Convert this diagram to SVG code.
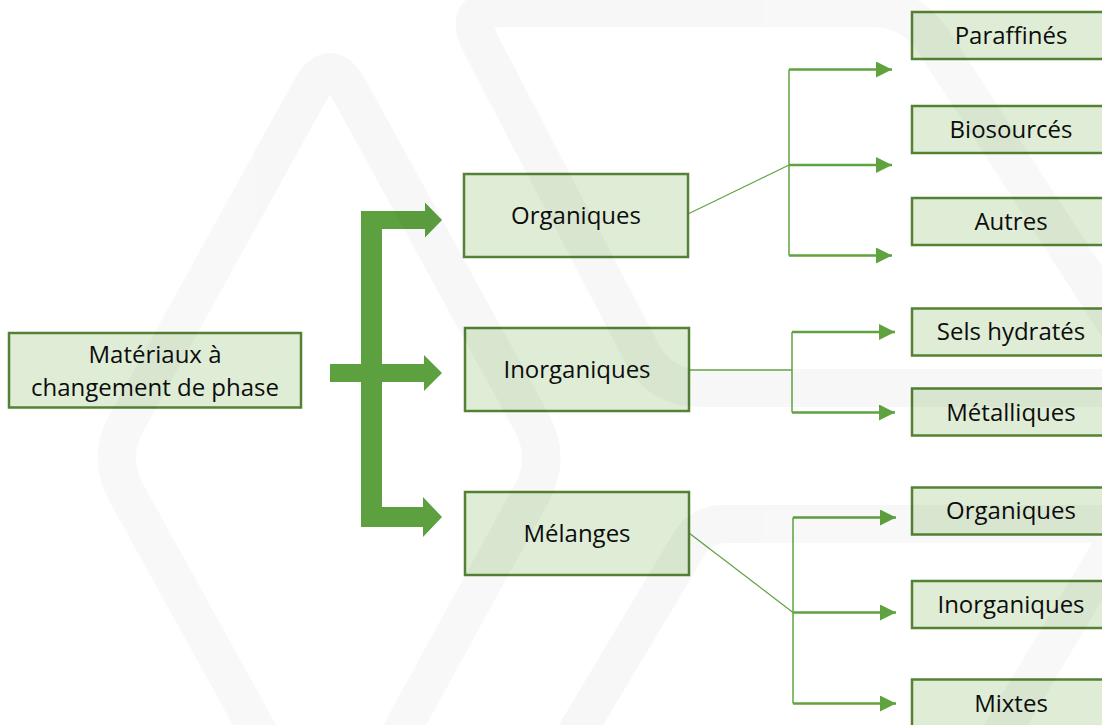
<svg xmlns="http://www.w3.org/2000/svg" width="1102" height="725" viewBox="0 0 1102 725">
<defs>
<style>
.box{fill:#DFEDD6;stroke:#548235;stroke-width:2.5}
.t{font-family:"Open Sans","Liberation Sans",sans-serif;font-size:24px;fill:#0d0d0d;text-anchor:middle}
.h{fill:none;stroke:#5FA240;stroke-width:2.5}
.v{fill:none;stroke:#6AAA4E;stroke-width:1.6}
.d{fill:none;stroke:#5FA240;stroke-width:1.2}
.wm{fill:none;stroke:#000;stroke-width:38;stroke-linejoin:round}
</style>
<marker id="ah" viewBox="0 0 16 16" refX="16" refY="8" markerWidth="16" markerHeight="16" markerUnits="userSpaceOnUse" orient="auto">
<path d="M0,0 L16,8 L0,16 Z" fill="#5FA240"/>
</marker>
</defs>
<rect width="1102" height="725" fill="#fff"/>

<g id="connectors">
<path id="bigarrows" fill="#5CA03F" d="M361,211 H425 V202.5 L442,220 L425,237.5 V229 H382 V364 H424 V355 L442,373 L424,391 V382 H382 V507 H423 V497 L442,517 L423,537 V527 H361 V382 H330 V364 H361 Z"/>
<line class="d" x1="688" y1="214" x2="789" y2="165"/>
<line class="v" x1="789" y1="69.5" x2="789" y2="255.5"/>
<line class="h" x1="789" y1="69.5" x2="892" y2="69.5" marker-end="url(#ah)"/>
<line class="h" x1="789" y1="165" x2="892" y2="165" marker-end="url(#ah)"/>
<line class="h" x1="789" y1="255.5" x2="892" y2="255.5" marker-end="url(#ah)"/>
<line class="v" x1="689" y1="370" x2="792" y2="370"/>
<line class="v" x1="792" y1="332" x2="792" y2="412.5"/>
<line class="h" x1="792" y1="332" x2="895" y2="332" marker-end="url(#ah)"/>
<line class="h" x1="792" y1="412.5" x2="895" y2="412.5" marker-end="url(#ah)"/>
<line class="d" x1="689" y1="533" x2="793" y2="612.5"/>
<line class="v" x1="793" y1="517.5" x2="793" y2="703.5"/>
<line class="h" x1="793" y1="517.5" x2="896" y2="517.5" marker-end="url(#ah)"/>
<line class="h" x1="793" y1="612.5" x2="896" y2="612.5" marker-end="url(#ah)"/>
<line class="h" x1="793" y1="703.5" x2="896" y2="703.5" marker-end="url(#ah)"/>
</g>

<g id="n-root"><rect class="box" x="9" y="333" width="292" height="74.5"/>
<text class="t" x="155" y="362.5">Matériaux à</text><text class="t" x="155" y="396">changement de phase</text></g>
<g id="n-org"><rect class="box" x="464" y="174" width="224" height="83"/><text class="t" x="576" y="224">Organiques</text></g>
<g id="n-inorg"><rect class="box" x="465" y="328" width="224" height="83"/><text class="t" x="577" y="378">Inorganiques</text></g>
<g id="n-mel"><rect class="box" x="465" y="492" width="224" height="83"/><text class="t" x="577" y="542">Mélanges</text></g>

<g id="n-paraffines"><rect class="box" x="912" y="12" width="200" height="47"/><text class="t" x="1011" y="44">Paraffinés</text></g>
<g id="n-biosources"><rect class="box" x="912" y="106" width="200" height="47"/><text class="t" x="1011" y="138">Biosourcés</text></g>
<g id="n-autres"><rect class="box" x="912" y="198" width="200" height="47"/><text class="t" x="1011" y="230">Autres</text></g>
<g id="n-sels"><rect class="box" x="912" y="308.5" width="200" height="47"/><text class="t" x="1011" y="340">Sels hydratés</text></g>
<g id="n-metal"><rect class="box" x="912" y="388.5" width="200" height="47"/><text class="t" x="1011" y="420.5">Métalliques</text></g>
<g id="n-org2"><rect class="box" x="912" y="487.5" width="200" height="47"/><text class="t" x="1011" y="519">Organiques</text></g>
<g id="n-inorg2"><rect class="box" x="912" y="581" width="200" height="47"/><text class="t" x="1011" y="613">Inorganiques</text></g>
<g id="n-mixtes"><rect class="box" x="912" y="679.5" width="200" height="60"/><text class="t" x="1011" y="711.5">Mixtes</text></g>

<g id="watermark" opacity="0.026">
<path class="wm" d="M310.6,89.5 Q330,54.5 349.2,89.6 L531.8,423 Q551,458 531.8,493 L349.2,826.4 Q330,861.5 310.6,826.5 L126.4,493 Q107,458 126.4,423 Z"/>
<path class="wm" d="M1130,388 H700 Q660,388 641.5,352.5 L480.5,43.5 Q462,8 502,8 H872 Q912,8 933.8,41.6 L1130,345"/>
<path class="wm" d="M560,760 L688,546 Q700,524 724,524 H1100 Q1125,524 1113,545 L985,760"/>
</g>
</svg>
